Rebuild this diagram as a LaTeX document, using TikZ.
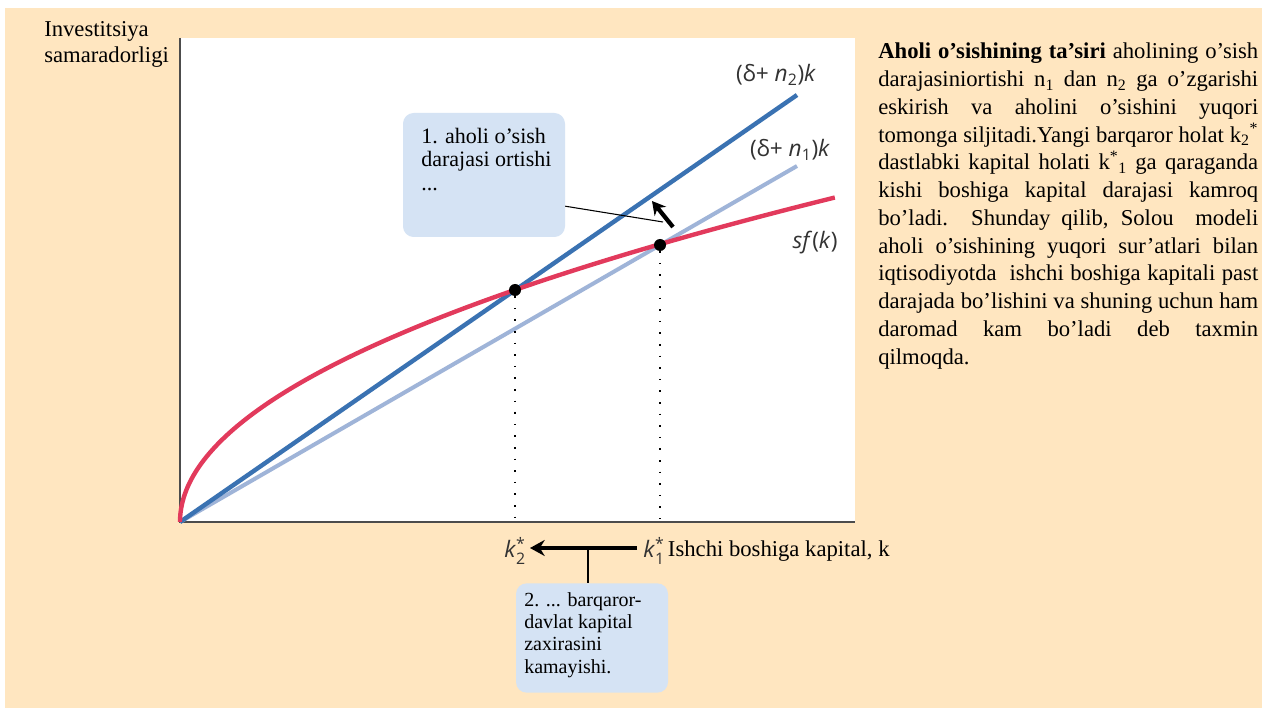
\documentclass[tikz,border=0pt]{standalone}
\usepackage{fontspec}
\usepackage{amsmath}
\setmainfont{Liberation Serif}
\newfontfamily\labfont{Open Sans}
\usetikzlibrary{arrows.meta}
\definecolor{peach}{HTML}{FFE6C0}
\definecolor{calloutblue}{HTML}{D5E3F4}
\definecolor{darkline}{HTML}{3A72B2}
\definecolor{lightline}{HTML}{9FB4D8}
\definecolor{redline}{HTML}{E23A5C}
\newcommand{\iv}[1]{\textit{#1}}
\tikzset{
  callout/.style={fill=calloutblue, rounded corners=8pt, inner sep=0pt},
  curvelab/.style={font=\labfont\fontsize{17}{19}\selectfont, text=black!80},
  eqdot/.style={circle, fill=black, inner sep=0pt, minimum size=9pt},
  guide/.style={dash pattern=on 1.2pt off 7.5pt, line width=1.2pt}
}

\begin{document}
\begin{tikzpicture}[x=0.75pt, y=0.75pt]
  % Background
  \fill[white] (0,0) rectangle (1262,711);
  \fill[peach] (5,3) rectangle (1262,703);
  \fill[white] (180,189) rectangle (855,673);
  \useasboundingbox (0,0) rectangle (1262,711);

  % Axes
  \coordinate (origin) at (180,189);
  \draw[line width=1.2pt, black!70] (180,673) -- (origin) -- (855,189);

  % Curves
  \draw[lightline, line width=3pt] (origin) -- (797,545) coordinate (n1end);
  \draw[darkline, line width=3.3pt] (origin) -- (797,616) coordinate (n2end);
  \draw[redline, line width=3.3pt] plot[domain=0:25.59, samples=80, smooth]
        ({180+\x*\x}, {189+12.68*\x}) coordinate (sfend);

  % Steady states
  \node[eqdot] (ss2) at (515,421) {};
  \node[eqdot] (ss1) at (660,466) {};
  \coordinate (foot2) at (515,192);
  \coordinate (foot1) at (660,192);
  \draw[guide] (ss2) -- (foot2);
  \draw[guide] (ss1) -- (foot1);

  % Curve labels
  \node[curvelab] (labn2) at (776,636) {(δ+ \iv{n}\textsubscript{2})\iv{k}};
  \node[curvelab] (labn1) at (790,561) {(δ+ \iv{n}\textsubscript{1})\iv{k}};
  \node[curvelab] (labsf) at (815,468) {\iv{sf}(\iv{k})};

  % Axis labels
  \node[anchor=north west, align=left, font=\fontsize{17}{19.5}\selectfont, inner sep=0pt]
       (ylab) at (44,690) {Investitsiya\\samaradorligi};
  \node[curvelab, inner sep=0pt] (k2) at (515,160) {\iv{k}$^{\text{*}}_{\text{2}}$};
  \node[curvelab, inner sep=0pt, anchor=west] (k1) at (643,160) {\iv{k}$^{\text{*}}_{\text{1}}$};
  \node[anchor=west, inner sep=0pt, font=\fontsize{17}{19}\selectfont] (xlab) at (k1.east)
       {\kern2pt Ishchi boshiga kapital, k};

  % Shift of k*
  \coordinate (shiftR) at (637,163);
  \coordinate (shiftL) at (530,163);
  \draw[line width=3.2pt, -{Stealth[length=11pt, width=12pt]}] (shiftR) -- (shiftL);

  % Callout 1
  \node[callout, minimum width=121.5pt, minimum height=93pt] (box1) at (484,536) {};
  \node[anchor=north west, align=left, inner sep=0pt, font=\fontsize{16.5}{17.5}\selectfont]
       (txt1) at (421,583) {1. aholi o'sish\\darajasi ortishi\\...};
  \coordinate (tip1) at (663,489);
  \draw[line width=0.8pt] (box1.-21) -- (tip1);
  \coordinate (up1a) at (673,484);
  \coordinate (up1b) at (652,510);
  \draw[line width=3.2pt, -{Stealth[length=10pt, width=11pt]}] (up1a) -- (up1b);

  % Callout 2
  \node[callout, minimum width=114pt, minimum height=82pt] (box2) at (592,73) {};
  \node[anchor=north west, align=left, inner sep=0pt, font=\fontsize{15}{16.8}\selectfont]
       (txt2) at (524,119) {2. ... barqaror-\\davlat kapital\\zaxirasini\\kamayishi.};
  \coordinate (stem2) at (588,163);
  \draw[line width=0.8pt] (stem2) -- (stem2 |- box2.north);

  % Side text
  \node[anchor=north west, text width=285pt, align=justify, inner sep=0pt,
        font=\fontsize{17}{20.8}\selectfont] (side) at (878,668)
  {\textbf{Aholi o'sishining ta'siri} aholining o'sish\linebreak
   darajasiniortishi n\textsubscript{1} dan n\textsubscript{2} ga o'zgarishi\linebreak
   eskirish va aholini o'sishini yuqori\linebreak
   tomonga siljitadi.Yangi barqaror holat k\textsubscript{2}\textsuperscript{*}\linebreak
   dastlabki kapital holati k\textsuperscript{*}\textsubscript{1} ga qaraganda\linebreak
   kishi boshiga kapital darajasi kamroq\linebreak
   bo'ladi. Shunday qilib, Solou\ \ modeli\linebreak
   aholi o'sishining yuqori sur'atlari bilan\linebreak
   iqtisodiyotda\ \ ishchi boshiga kapitali past\linebreak
   darajada bo'lishini va shuning uchun ham\linebreak
   daromad kam bo'ladi deb taxmin\linebreak
   qilmoqda.};
\end{tikzpicture}
\end{document}
